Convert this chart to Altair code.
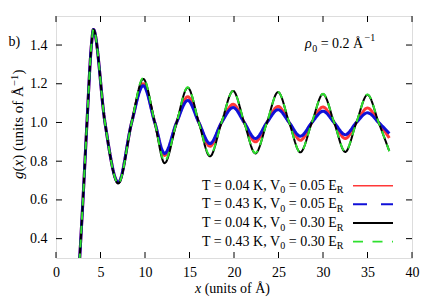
import altair as alt
import pandas as pd

# ---- data ----
x_pts = [2.55, 3.03, 3.48, 3.98, 4.2, 5.5, 7.0, 8.5, 9.8, 11.1, 12.2, 13.55, 14.8, 16.05,
         17.3, 18.6, 19.9, 21.15, 22.4, 23.7, 24.95, 26.2, 27.45, 28.75, 30.0, 31.25,
         32.5, 33.75, 35.0, 36.25, 37.45]
g_red = [0.21, 0.6, 1.0, 1.4, 1.48, 1.0, 0.69, 1.0, 1.20, 1.0, 0.83, 1.0, 1.133, 1.0,
         0.877, 1.0, 1.094, 1.0, 0.90, 1.0, 1.083, 1.0, 0.908, 1.0, 1.08, 1.0,
         0.917, 1.0, 1.075, 1.0, 0.92]
g_blue = [0.21, 0.6, 1.0, 1.4, 1.48, 1.0, 0.69, 1.0, 1.19, 1.0, 0.84, 1.0, 1.114, 1.0,
          0.891, 1.0, 1.077, 1.0, 0.917, 1.0, 1.066, 1.0, 0.929, 1.0, 1.058, 1.0,
          0.937, 1.0, 1.05, 1.0, 0.943]
g_black = [0.21, 0.6, 1.0, 1.4, 1.48, 1.0, 0.685, 1.0, 1.225, 1.0, 0.79, 1.0, 1.18, 1.0,
           0.825, 1.0, 1.163, 1.0, 0.84, 1.0, 1.157, 1.0, 0.846, 1.0, 1.147, 1.0,
           0.848, 1.0, 1.143, 1.0, 0.852]
g_green = [0.21, 0.6, 1.0, 1.4, 1.48, 1.0, 0.685, 1.0, 1.23, 1.0, 0.80, 1.0, 1.182, 1.0,
           0.83, 1.0, 1.163, 1.0, 0.842, 1.0, 1.157, 1.0, 0.846, 1.0, 1.148, 1.0,
           0.85, 1.0, 1.145, 1.0, 0.852]

temps = ["0.04", "0.43", "0.04", "0.43"]
v0s = ["0.05", "0.05", "0.30", "0.30"]
series_keys = ["red", "blue", "black", "green"]
series_values = [g_red, g_blue, g_black, g_green]

x_ticks = [0, 5, 10, 15, 20, 25, 30, 35, 40]
y_ticks = [0.4, 0.6, 0.8, 1.0, 1.2, 1.4]

# ---- styling / layout ----
W, H = 356, 242
FONT = "Liberation Serif, Times New Roman, serif"
FS = 14
colors = {"red": "#ff3838", "blue": "#1010d8", "black": "#000000", "green": "#2ee02e"}
plot_width = {"red": 3.0, "blue": 3.0, "black": 2.0, "green": 2.0}
plot_dash = {"red": [1, 0], "blue": [1, 0], "black": [1, 0], "green": [8, 6]}
leg_width = {"red": 1.6, "blue": 2.0, "black": 2.0, "green": 1.8}
leg_dash = {"red": [1, 0], "blue": [14, 14], "black": [1, 0], "green": [10, 9.5]}

rows = []
for key, vals in zip(series_keys, series_values):
    for xv, gv in zip(x_pts, vals):
        rows.append({"series": key, "x": xv, "g": gv})
df = pd.DataFrame(rows)

xs = alt.Scale(domain=[0, 40], nice=False, zero=False)
ys = alt.Scale(domain=[0.3, 1.55], nice=False, zero=False)

x_axis = alt.Axis(values=x_ticks, ticks=False, domain=False, grid=False, title=None,
                  labelFont=FONT, labelFontSize=FS, labelColor="black", labelPadding=7,
                  labelFlush=False)
y_axis = alt.Axis(values=y_ticks, format=".1f", ticks=False, domain=False, grid=False,
                  title=None, labelFont=FONT, labelFontSize=FS, labelColor="black",
                  labelPadding=9)

layers = []
for i, key in enumerate(series_keys):
    layers.append(
        alt.Chart(df).transform_filter(alt.datum.series == key)
        .mark_line(color=colors[key], strokeWidth=plot_width[key], strokeDash=plot_dash[key],
                   interpolate="monotone", clip=True)
        .encode(x=alt.X("x:Q", scale=xs, axis=x_axis),
                y=alt.Y("g:Q", scale=ys, axis=y_axis))
    )

# inward ticks on all four sides
xt = pd.DataFrame({"x": x_ticks})
yt = pd.DataFrame({"g": y_ticks})
TL = 6
for (y1, y2) in [(H, H - TL), (0, TL)]:
    layers.append(alt.Chart(xt).mark_rule(color="black", strokeWidth=1)
                  .encode(x=alt.X("x:Q", scale=xs, axis=x_axis), y=alt.value(y1), y2=alt.value(y2)))
for (x1, x2) in [(0, TL), (W, W - TL)]:
    layers.append(alt.Chart(yt).mark_rule(color="black", strokeWidth=1)
                  .encode(y=alt.Y("g:Q", scale=ys, axis=y_axis), x=alt.value(x1), x2=alt.value(x2)))

one = pd.DataFrame({"a": [0]})


def txt(s, x, y, size=FS, style="normal", align="left", angle=0, baseline="middle"):
    return (alt.Chart(one)
            .mark_text(font=FONT, fontSize=size, fontStyle=style, align=align,
                       baseline=baseline, angle=angle, color="black")
            .encode(x=alt.value(x), y=alt.value(y), text=alt.value(s)))


SUB = 10
SP = 3.5
# legend (right-aligned text chain + sample lines)
LX = 287.5
row0, drow = 169.7, 18.65
wR, wMid, w0 = 6.8, 51.4, 5.2
for i, key in enumerate(series_keys):
    yy = row0 + i * drow
    layers.append(txt("R", LX, yy + 4.5, size=SUB, align="right"))
    layers.append(txt("= " + v0s[i] + " E", LX - wR, yy, align="right"))
    layers.append(txt("0", LX - wR - wMid, yy + 4.5, size=SUB, align="right"))
    layers.append(txt("T = " + temps[i] + " K, V", LX - wR - wMid - w0, yy, align="right"))
    layers.append(alt.Chart(one).mark_rule(color=colors[key], strokeWidth=leg_width[key],
                                           strokeDash=leg_dash[key])
                  .encode(x=alt.value(297), x2=alt.value(337), y=alt.value(yy)))

# rho annotation
RX, RY = 249, 28
layers.append(txt("ρ", RX, RY, style="italic"))
layers.append(txt("0", RX + 7.2, RY + 4.5, size=SUB))
layers.append(txt("= 0.2 Å", RX + 12.2 + SP, RY))
layers.append(txt("−1", RX + 59.5, RY - 6, size=SUB))

# panel label
layers.append(txt("b)", -47.5, 25.7))

# x title
XT, YT = 139, 273
layers.append(txt("x", XT, YT, style="italic"))
layers.append(txt("(units of Å)", XT + 6.2 + SP, YT))

# y title (rotated, reading upward)
YFS = 15
YX = -38.0
y0 = 163
layers.append(txt("g", YX, y0, size=YFS, style="italic", angle=270))
layers.append(txt("(", YX, y0 - 7.5, size=YFS, angle=270))
layers.append(txt("x", YX, y0 - 12.5, size=YFS, style="italic", angle=270))
layers.append(txt(") (units of Å", YX, y0 - 19.2, size=YFS, angle=270))
layers.append(txt("−1", YX - 3.5, y0 - 93.2, size=10.5, angle=270))
layers.append(txt(")", YX, y0 - 104.5, size=YFS, angle=270))

chart = (alt.layer(*layers)
         .properties(width=W, height=H, autosize=alt.AutoSizeParams(type="none"),
                     padding={"left": 48, "top": 8, "right": 16, "bottom": 39})
         .configure_view(stroke="black", strokeWidth=1)
         .configure(background="white"))

chart.save("out.html", embed_options={"renderer": "svg", "actions": False})
